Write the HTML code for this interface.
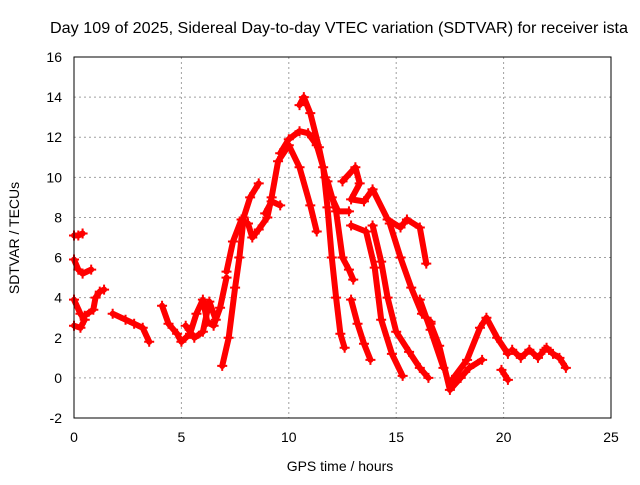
<!DOCTYPE html>
<html><head><meta charset="utf-8"><style>
body{margin:0;background:#fff}
svg text{font-family:"Liberation Sans",sans-serif;font-size:14px;fill:#000}
</style></head><body>
<svg id="chart" width="640" height="480" viewBox="0 0 640 480" xmlns="http://www.w3.org/2000/svg">
<rect width="640" height="480" fill="#fff"/>
<g id="grid"></g>
<g id="series"></g>
<rect x="74" y="57" width="537" height="361" fill="none" stroke="#000" stroke-width="1"/>
<g id="ticks"></g>
<text x="339" y="33" text-anchor="middle" style="font-size:16px" textLength="578" lengthAdjust="spacingAndGlyphs">Day 109 of 2025, Sidereal Day-to-day VTEC variation (SDTVAR) for receiver ista</text>
<text x="340" y="471" text-anchor="middle">GPS time / hours</text>
<text x="0" y="0" text-anchor="middle" transform="translate(19,238) rotate(-90)">SDTVAR / TECUs</text>
</svg>
<script>
const xTicks=[0,5,10,15,20,25];
const yTicks=[-2,0,2,4,6,8,10,12,14,16];
const track1=[[0,7.1],[0.2,7.1],[0.4,7.2]];
const track2=[[0,5.9],[0.2,5.4],[0.4,5.2],[0.8,5.4]];
const track3=[[0,3.9],[0.3,3.2],[0.5,2.9],[0.3,2.5],[0,2.6]];
const track4=[[0.5,3.1],[0.9,3.4],[1.0,4.0],[1.2,4.3],[1.4,4.4]];
const track5=[[1.8,3.2],[2.4,2.9],[2.8,2.7],[3.2,2.5],[3.5,1.8]];
const track6=[[4.1,3.6],[4.4,2.7],[4.8,2.2],[5.0,1.8],[5.4,2.2],[5.7,3.2],[6.0,3.9],[6.2,2.8],[6.5,2.6],[6.8,3.5],[7.1,5.0]];
const track7=[[5.2,2.6],[5.6,2.0],[6.0,2.3],[6.3,3.8],[6.6,2.9]];
const track8=[[6.9,0.6],[7.2,2.0],[7.5,4.5],[7.7,6.0],[7.9,8.0],[8.2,9.0],[8.6,9.7]];
const track9=[[7.1,5.3],[7.4,6.8],[7.8,7.9],[8.1,7.7],[8.3,7.0],[8.6,7.4],[9.0,8.0],[9.2,9.0],[9.5,10.8],[10.0,11.6],[10.5,10.5],[11.0,8.6],[11.3,7.3]];
const track10=[[8.9,8.2],[9.2,8.8],[9.6,8.6]];
const track11=[[9.6,11.2],[10.0,11.9],[10.5,12.3],[10.9,12.2],[11.3,11.6],[11.6,10.5],[11.8,8.5],[12.0,6.0],[12.2,4.0],[12.4,2.2],[12.6,1.5]];
const track12=[[10.5,13.6],[10.7,14.0],[11.0,13.2],[11.4,11.5],[11.7,10.0],[12.0,9.0],[12.3,8.3],[12.8,8.3]];
const track13=[[11.8,9.8],[12.2,8.3],[12.5,6.0],[12.8,5.4],[13.0,4.9]];
const track14=[[12.5,9.8],[13.1,10.5],[13.3,9.7],[12.9,8.9],[13.5,8.8],[13.9,9.4],[14.6,7.9],[15.2,7.5],[15.5,7.9],[16.1,7.5],[16.4,5.7]];
const track15=[[12.9,7.6],[13.6,7.3],[14.0,5.5],[14.3,2.9],[14.8,1.2],[15.3,0.1]];
const track16=[[13.9,7.6],[14.3,5.8],[14.6,4.0],[15.0,2.3],[15.6,1.3],[16.1,0.5],[16.5,0.0]];
const track17=[[14.7,7.7],[15.2,6.0],[15.7,4.5],[16.2,3.2],[16.6,2.8]];
const track18=[[12.9,3.9],[13.2,2.7],[13.5,1.7],[13.8,0.9]];
const track19=[[16.1,3.9],[16.6,2.4],[17.2,0.5]];
const track20=[[16.6,2.7],[17.0,1.6],[17.5,-0.6],[18.0,0.0],[18.4,0.5],[19.0,0.9]];
const track21=[[17.6,-0.1],[18.3,0.9],[18.9,2.5],[19.2,3.0],[19.7,2.0],[20.2,1.2]];
const track22=[[19.9,0.4],[20.2,-0.1]];
const track23=[[20.4,1.4],[20.8,1.0],[21.2,1.4],[21.6,1.0],[21.9,1.4]];
const track24=[[22.0,1.5],[22.3,1.2],[22.6,1.0],[22.9,0.5]];
const tracks=[track1,track2,track3,track4,track5,track6,track7,track8,track9,track10,track11,track12,track13,track14,track15,track16,track17,track18,track19,track20,track21,track22,track23,track24];

const X0=74,X1=611,Y0=418,Y1=57,XMIN=0,XMAX=25,YMIN=-2,YMAX=16;
function sx(t){return X0+(t-XMIN)/(XMAX-XMIN)*(X1-X0);}
function sy(v){return Y0-(v-YMIN)/(YMAX-YMIN)*(Y0-Y1);}
const NS="http://www.w3.org/2000/svg";
function mk(tag,attrs,parent){const e=document.createElementNS(NS,tag);for(const k in attrs)e.setAttribute(k,attrs[k]);parent.appendChild(e);return e;}
const grid=document.getElementById('grid'),ticks=document.getElementById('ticks'),series=document.getElementById('series');
xTicks.forEach(t=>{
  const x=sx(t);
  if(t>XMIN&&t<XMAX){const g=mk('line',{x1:x,x2:x,y1:Y1,y2:Y0,stroke:'#a0a0a0','stroke-dasharray':'2,3'},grid);
  
  }
  const l=mk('text',{x:x,y:Y0+24,'text-anchor':'middle'},ticks);l.textContent=t;
  
  
});
yTicks.forEach(v=>{
  const y=sy(v);
  if(v>YMIN&&v<YMAX){const g=mk('line',{x1:X0,x2:X1,y1:y,y2:y,stroke:'#a0a0a0','stroke-dasharray':'2,3'},grid);
  
  }
  const l=mk('text',{x:X0-12,y:y+5,'text-anchor':'end'},ticks);l.textContent=v;
  
  
});
tracks.forEach(tr=>{
  const pts=tr.map(p=>sx(p[0]).toFixed(1)+','+sy(p[1]).toFixed(1)).join(' ');
  const pl=mk('polyline',{points:pts,fill:'none',stroke:'#ff0000','stroke-width':6,'stroke-linejoin':'round','stroke-linecap':'round'},series);
  
  
  tr.forEach(p=>{
    const x=sx(p[0]),y=sy(p[1]);
    const m=mk('path',{d:`M${x-5},${y}H${x+5}M${x},${y-5}V${y+5}`,stroke:'#ff0000','stroke-width':2},series);
    
    
  });
});
</script>
</body></html>
